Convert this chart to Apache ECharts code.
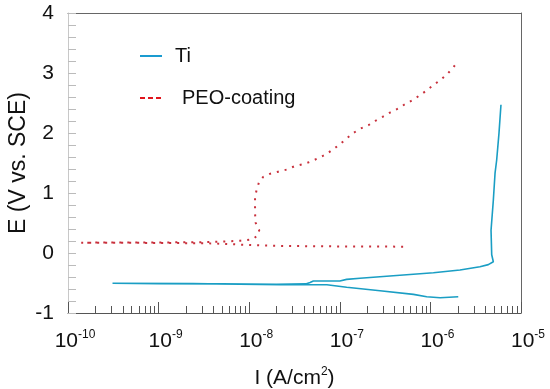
<!DOCTYPE html>
<html><head><meta charset="utf-8">
<script src="https://cdn.jsdelivr.net/npm/echarts@6/dist/echarts.min.js"></script>
<style>html,body{margin:0;padding:0;background:#fff}#c{width:550px;height:389px}</style>
</head><body><div id="c"></div>
<script>
// Ti polarization curve (scan order): current density (A/cm2) and potential (V vs SCE)
const tiI = [2.03e-6, 1.28e-6, 9.1e-7, 6.5e-7, 2.78e-7, 1.19e-7, 7.2e-8, 2.2e-8, 7.9e-9, 2.4e-9, 3.1e-10,
  1.0e-9, 5.0e-9, 2.0e-8, 4.2e-8, 4.7e-8, 5.1e-8, 1.0e-7, 1.19e-7, 1.67e-7, 3.89e-7, 1.08e-6, 2.12e-6,
  3.52e-6, 4.36e-6, 4.95e-6, 4.75e-6, 4.67e-6, 4.95e-6, 5.17e-6, 5.39e-6, 5.71e-6, 6.01e-6];
const tiE = [-0.73, -0.745, -0.73, -0.69, -0.63, -0.57, -0.53, -0.53, -0.52, -0.51, -0.505,
  -0.51, -0.515, -0.52, -0.515, -0.49, -0.467, -0.467, -0.44, -0.42, -0.378, -0.328, -0.283,
  -0.228, -0.194, -0.145, -0.03, 0.38, 0.88, 1.33, 1.55, 1.99, 2.47];
// PEO-coating polarization curve (scan order)
const peoI = [5.0e-7, 3.0e-7, 1.0e-7, 5.0e-8, 2.5e-8, 1.4e-8, 8.0e-9, 4.0e-9, 1.0e-9, 3.0e-10, 1.4e-10,
  3.0e-10, 1.0e-9, 3.0e-9, 5.0e-9, 8.0e-9, 1.1e-8, 1.25e-8, 1.29e-8, 1.18e-8, 1.16e-8, 1.16e-8, 1.16e-8,
  1.21e-8, 1.29e-8, 1.43e-8, 1.70e-8, 2.09e-8, 2.59e-8, 3.21e-8, 3.95e-8, 4.69e-8, 5.79e-8, 7.16e-8,
  8.47e-8, 1.0e-7, 1.19e-7, 1.41e-7, 1.67e-7, 2.07e-7, 2.45e-7, 2.97e-7, 3.58e-7, 4.43e-7, 5.25e-7,
  6.37e-7, 7.67e-7, 9.1e-7, 1.08e-6, 1.28e-6, 1.51e-6, 1.76e-6, 2.03e-6];
const peoE = [0.105, 0.108, 0.11, 0.113, 0.117, 0.125, 0.14, 0.16, 0.168, 0.17, 0.172,
  0.175, 0.176, 0.18, 0.19, 0.205, 0.23, 0.3, 0.38, 0.5, 0.66, 0.8, 0.93,
  1.06, 1.19, 1.27, 1.32, 1.355, 1.39, 1.45, 1.48, 1.52, 1.58, 1.65,
  1.73, 1.81, 1.91, 2.0, 2.07, 2.13, 2.2, 2.27, 2.34, 2.41, 2.48,
  2.55, 2.63, 2.71, 2.8, 2.88, 2.97, 3.08, 3.2];
const seriesNames = ['Ti', 'PEO-coating'];
// axis ranges / tick labels
const xMin = 1e-10, xMax = 1e-5;
const yMin = -1, yMax = 4, yStep = 1;
const minorExponents = [-10, -9, -8, -7, -6];
const minorMantissas = [2, 3, 4, 5, 6, 7, 8, 9];

const FONT = "'Liberation Sans', Arial, Helvetica, sans-serif";
const zip = (a, b) => a.map((v, i) => [v, b[i]]);
const minorTickData = [];
minorExponents.forEach(e => minorMantissas.forEach(m => minorTickData.push([m * Math.pow(10, e), yMin])));

const chart = echarts.init(document.getElementById('c'), null, {renderer: 'canvas'});
chart.setOption({
  animation: false,
  backgroundColor: '#fff',
  textStyle: {fontFamily: FONT},
  grid: {left: 68, right: 29, top: 13, bottom: 76, containLabel: false, outerBoundsMode: 'none'},
  legend: [
    {data: ['Ti'], left: 135, top: 41, itemWidth: 22, itemHeight: 2, selectedMode: false,
     icon: 'rect', itemStyle: {color: '#1a9bd0'},
     textStyle: {fontSize: 20, color: '#111', fontFamily: FONT, padding: [0, 0, 0, 8]}},
    {data: ['PEO-coating'], left: 135, top: 83, itemWidth: 21, itemHeight: 2, selectedMode: false,
     icon: 'path://M0,0h5v2h-5z M8,0h5v2h-5z M16,0h5v2h-5z', itemStyle: {color: '#e0141c'},
     textStyle: {fontSize: 20, color: '#111', fontFamily: FONT, padding: [0, 0, 0, 16]}}
  ],
  xAxis: [{
    type: 'log', logBase: 10, min: xMin, max: xMax, position: 'bottom',
    name: '{n|I (A/cm}{s|2}{n|)}', nameLocation: 'middle', nameGap: 53, nameMoveOverlap: false,
    nameTextStyle: {rich: {
      n: {fontSize: 21, color: '#111', fontFamily: FONT, lineHeight: 24},
      s: {fontSize: 12, color: '#111', fontFamily: FONT, verticalAlign: 'top', lineHeight: 14}
    }},
    axisLine: {show: true, onZero: false, lineStyle: {color: '#555', width: 1}},
    axisTick: {show: true, inside: true, length: 11, lineStyle: {color: '#555'}},
    splitLine: {show: false},
    axisLabel: {
      margin: 16, showMinLabel: true, showMaxLabel: true,
      formatter: function (v) {
        const e = String(Math.round(Math.log10(v)));
        return '{sp| }{b|10}{s|' + e + '}';
      },
      rich: {
        sp: {width: 14, fontSize: 12},
        b: {fontSize: 21, color: '#111', fontFamily: FONT, lineHeight: 24},
        s: {fontSize: 12, color: '#111', fontFamily: FONT, verticalAlign: 'top', lineHeight: 14}
      }
    }
  }, {
    type: 'log', logBase: 10, min: xMin, max: xMax, position: 'top',
    axisLine: {show: true, onZero: false, lineStyle: {color: '#666', width: 1}},
    axisTick: {show: false}, axisLabel: {show: false}, splitLine: {show: false}
  }],
  yAxis: [{
    type: 'value', min: yMin, max: yMax, interval: yStep, position: 'left',
    name: 'E (V vs. SCE)', nameLocation: 'middle', nameGap: 38, nameMoveOverlap: false,
    nameTextStyle: {fontSize: 23, color: '#111', fontFamily: FONT},
    axisLine: {show: true, onZero: false, lineStyle: {color: '#c8c8c8', width: 1}},
    axisTick: {show: true, inside: true, length: 8, lineStyle: {color: '#bbb'}},
    minorTick: {show: true, splitNumber: 5, length: 8, lineStyle: {color: '#bbb'}},
    splitLine: {show: false}, minorSplitLine: {show: false},
    axisLabel: {fontSize: 21, color: '#111', margin: 14, fontFamily: FONT, showMinLabel: true, showMaxLabel: true}
  }, {
    type: 'value', min: yMin, max: yMax, interval: yStep, position: 'right',
    axisLine: {show: true, onZero: false, lineStyle: {color: '#666', width: 1}},
    axisTick: {show: false}, axisLabel: {show: false}, splitLine: {show: false}
  }],
  series: [
    {name: seriesNames[0], type: 'line', data: zip(tiI, tiE), symbol: 'none', smooth: false,
     lineStyle: {color: '#1a9ec4', width: 1.6}, itemStyle: {color: '#1a9ec4'}},
    {name: seriesNames[1], type: 'line', data: zip(peoI, peoE), symbol: 'none', smooth: false,
     lineStyle: {color: '#c8303c', width: 2, type: [2, 6]}, itemStyle: {color: '#e0141c'}},
    {name: 'minorTicks', type: 'custom', silent: true, data: minorTickData, clip: false,
     renderItem: function (params, api) {
       const p = api.coord([api.value(0), api.value(1)]);
       const x = Math.round(p[0]) + 0.5;
       return {type: 'line', shape: {x1: x, y1: p[1], x2: x, y2: p[1] - 7},
               style: {stroke: '#555', lineWidth: 1}};
     }}
  ]
});
</script>
</body></html>
